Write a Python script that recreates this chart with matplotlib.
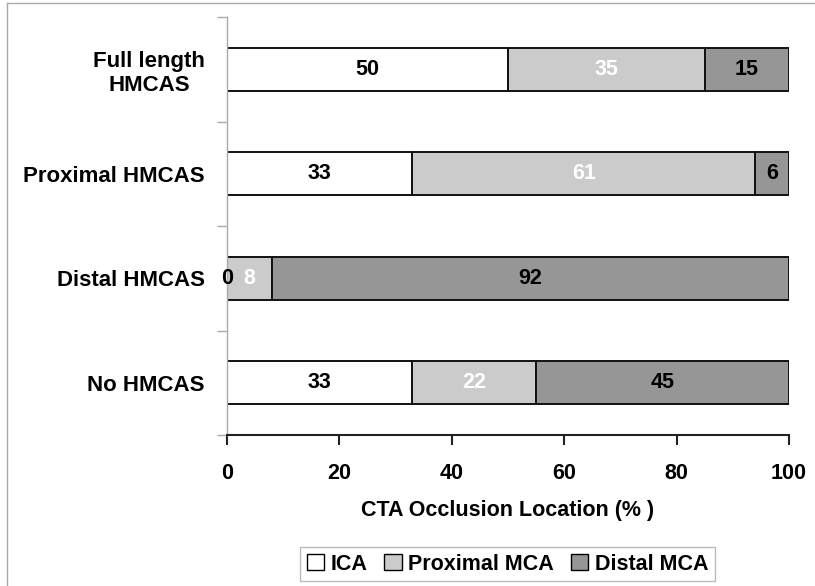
import numpy as np
import matplotlib
matplotlib.use('Agg')
import matplotlib.pyplot as plt
from matplotlib.patches import Patch

plt.rcParams['font.family'] = ['Liberation Sans', 'DejaVu Sans']
plt.rcParams['font.weight'] = 'bold'

# data (bottom to top)
groups = ['No HMCAS', 'Distal HMCAS', 'Proximal HMCAS', 'Full length\nHMCAS']
ica = [33, 0, 33, 50]
prox_mca = [22, 8, 61, 35]
dist_mca = [45, 92, 6, 15]

series = ['ICA', 'Proximal MCA', 'Distal MCA']
colors = ['#ffffff', '#cbcbcb', '#969696']
text_colors = ['black', 'white', 'black']

fig = plt.figure(figsize=(8.15, 5.86), dpi=100)
ax = fig.add_axes([227 / 815, 1 - 435 / 586, 562 / 815, 418 / 586])

y = np.arange(len(groups))
left = np.zeros(len(groups))
for vals, col, tcol in zip([ica, prox_mca, dist_mca], colors, text_colors):
    vals = np.array(vals, dtype=float)
    ax.barh(y, vals, left=left, height=0.41, color=col,
            edgecolor='#111111', linewidth=1.4)
    for yi, v, l in zip(y, vals, left):
        ax.text(l + v / 2, yi, f'{int(v)}', ha='center', va='center',
                fontsize=15.5, fontweight='bold', color=tcol)
    left = left + vals

ax.set_xlim(0, 100)
ax.set_ylim(-0.5, len(groups) - 0.5)
ax.set_xticks(np.arange(0, 101, 20))
ax.set_yticks(y)
ax.set_yticklabels(groups, fontsize=16, fontweight='bold', multialignment='center')
ax.set_yticks(np.arange(-0.5, len(groups), 1), minor=True)
ax.tick_params(axis='y', which='major', length=0, pad=16)
ax.tick_params(axis='y', which='minor', length=7, color='#aaaaaa', width=1)
ax.tick_params(axis='x', which='major', length=7, width=1.5, color='#222222',
               labelsize=15.5, pad=13)
for lab in ax.get_xticklabels():
    lab.set_fontweight('bold')

for s in ['top', 'right']:
    ax.spines[s].set_visible(False)
ax.spines['left'].set_color('#aaaaaa')
ax.spines['left'].set_linewidth(1)
ax.spines['bottom'].set_color('#222222')
ax.spines['bottom'].set_linewidth(1.5)

ax.set_xlabel('CTA Occlusion Location (% )', fontsize=15.5, fontweight='bold', labelpad=12)

handles = [Patch(facecolor=c, edgecolor='black', linewidth=1) for c in colors]
leg = fig.legend(handles, series, loc='center', bbox_to_anchor=(507.5 / 815, 1 - 564 / 586),
                 ncol=3, frameon=True, fancybox=False, fontsize=15.5,
                 handlelength=0.8, handleheight=0.8, handletextpad=0.3,
                 columnspacing=0.8, borderpad=0.3)
leg.get_frame().set_edgecolor('#aaaaaa')
leg.get_frame().set_linewidth(1)
for t in leg.get_texts():
    t.set_fontweight('bold')

# light frame around the chart area
fig.add_artist(plt.Line2D([7 / 815, 7 / 815], [0, 1 - 3 / 586], color='#aaaaaa', lw=1))
fig.add_artist(plt.Line2D([7 / 815, 1], [1 - 3 / 586, 1 - 3 / 586], color='#aaaaaa', lw=1))

fig.savefig('out.png', dpi=100)
